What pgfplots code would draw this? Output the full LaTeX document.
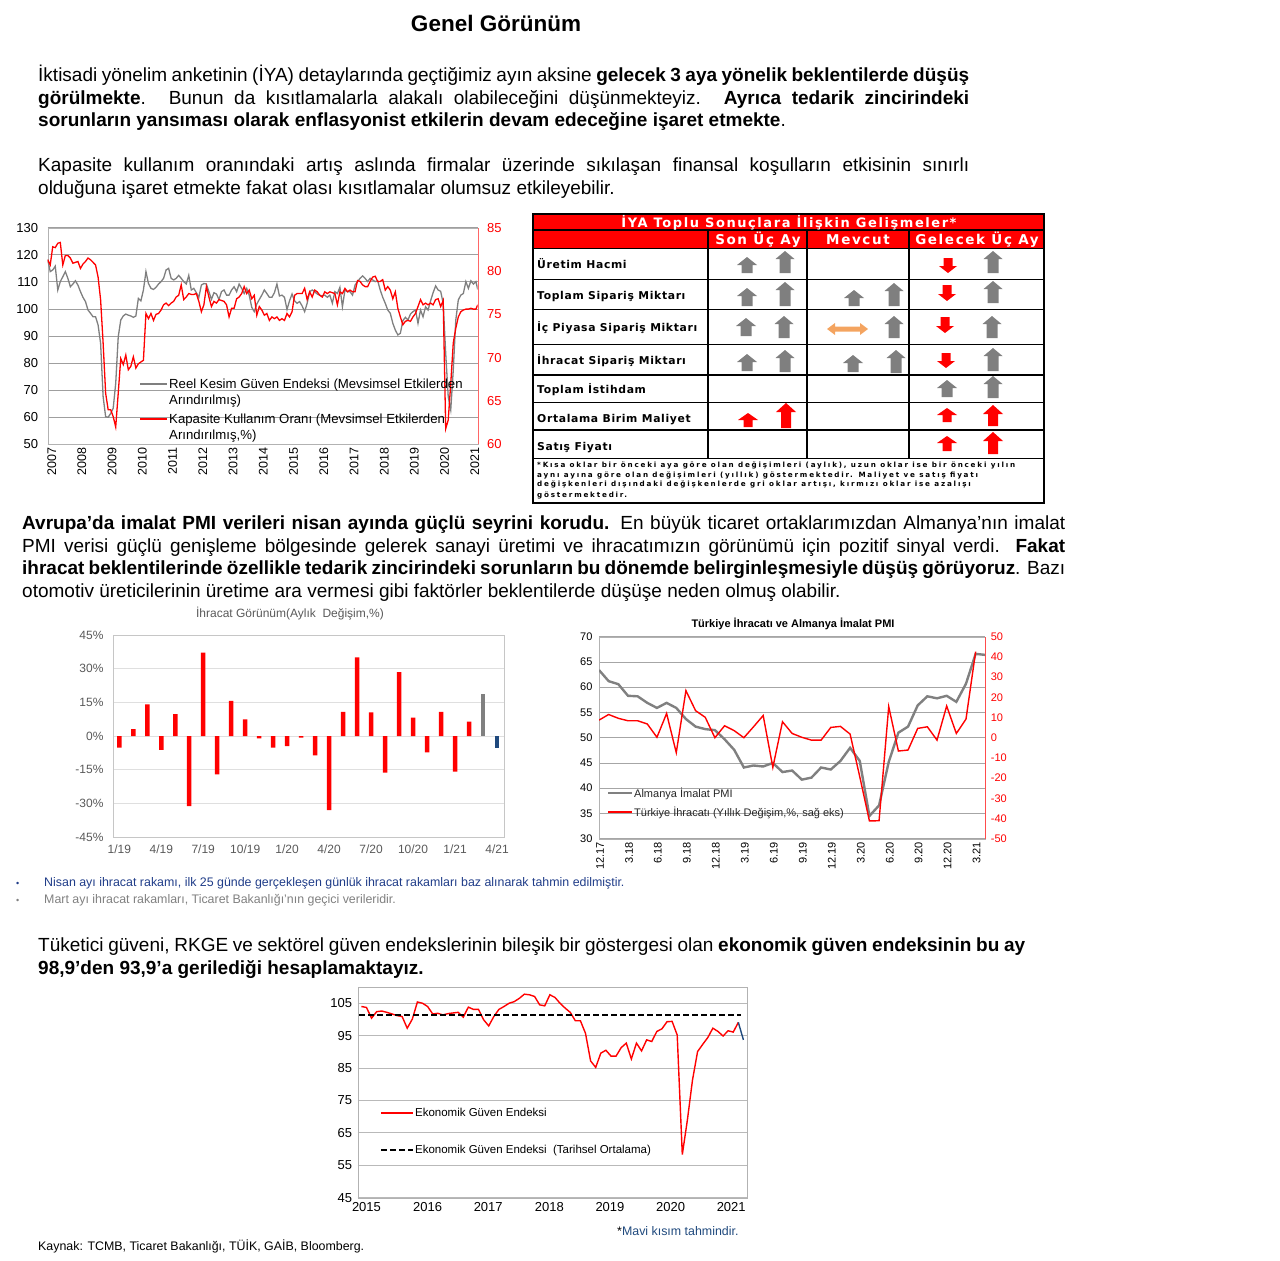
\documentclass[border=0pt]{standalone}
\usepackage{fontspec}
\setmainfont{Liberation Sans}
\newfontfamily\tfont[LetterSpace=6]{DejaVu Sans}
\newfontfamily\tfontw[LetterSpace=12]{DejaVu Sans}
\newfontfamily\tfontf[LetterSpace=25]{DejaVu Sans}
\usepackage{pgfplots}
\pgfplotsset{compat=1.18}
\definecolor{arrgray}{HTML}{7F7F7F}
\definecolor{dblue}{HTML}{1F497D}
\definecolor{nblue}{HTML}{1F3C88}
\definecolor{lgray}{HTML}{595959}
\definecolor{orng}{HTML}{F4A460}
\newcommand\uparr[7]{\fill[#7] ({#1-#5/2},#3) -- ({#1-#5/2},{#2+#6}) -- ({#1-#4/2},{#2+#6}) -- (#1,#2) -- ({#1+#4/2},{#2+#6}) -- ({#1+#5/2},{#2+#6}) -- ({#1+#5/2},#3) -- cycle;}
\newcommand\dnarr[7]{\fill[#7] ({#1-#5/2},#2) -- ({#1-#5/2},{#3-#6}) -- ({#1-#4/2},{#3-#6}) -- (#1,#3) -- ({#1+#4/2},{#3-#6}) -- ({#1+#5/2},{#3-#6}) -- ({#1+#5/2},#2) -- cycle;}
\begin{document}
\begin{tikzpicture}
\begin{scope}[x=1pt,y=-1pt]
\path[use as bounding box] (0,0) rectangle (1280,1261);
% ---------- text ----------
\node[anchor=base, inner sep=0pt, font=\bfseries\fontsize{22.5}{26}\selectfont] at (496,31) {Genel Görünüm};
\begin{scope}[every node/.style={anchor=base west, inner sep=0pt, font=\fontsize{19}{22}\selectfont}]
\node at (38,81) {\makebox[931pt][s]{İktisadi yönelim anketinin (İYA) detaylarında geçtiğimiz ayın aksine \textbf{gelecek 3 aya yönelik beklentilerde düşüş}}};
\node at (38,104) {\makebox[931pt][s]{\textbf{görülmekte}. Bunun da kısıtlamalarla alakalı olabileceğini düşünmekteyiz. \textbf{Ayrıca tedarik zincirindeki}}};
\node at (38,126) {\textbf{sorunların yansıması olarak enflasyonist etkilerin devam edeceğine işaret etmekte}.};
\node at (38,171) {\makebox[931pt][s]{Kapasite kullanım oranındaki artış aslında firmalar üzerinde sıkılaşan finansal koşulların etkisinin sınırlı}};
\node at (38,194) {olduğuna işaret etmekte fakat olası kısıtlamalar olumsuz etkileyebilir.};
\node at (22,529) {\makebox[1043pt][s]{\textbf{Avrupa’da imalat PMI verileri nisan ayında güçlü seyrini korudu.} En büyük ticaret ortaklarımızdan Almanya'nın imalat}};
\node at (22,552) {\makebox[1043pt][s]{PMI verisi güçlü genişleme bölgesinde gelerek sanayi üretimi ve ihracatımızın görünümü için pozitif sinyal verdi. \textbf{Fakat}}};
\node at (22,574) {\makebox[1043pt][s]{\textbf{ihracat beklentilerinde özellikle tedarik zincirindeki sorunların bu dönemde belirginleşmesiyle düşüş görüyoruz}. Bazı}};
\node at (22,597) {otomotiv üreticilerinin üretime ara vermesi gibi faktörler beklentilerde düşüşe neden olmuş olabilir.};
\node at (38,951) {\makebox[987pt][s]{Tüketici güveni, RKGE ve sektörel güven endekslerinin bileşik bir göstergesi olan \textbf{ekonomik güven endeksinin bu ay}}};
\node at (38,974) {\textbf{98,9’den 93,9’a gerilediği hesaplamaktayız.}};
\end{scope}
\begin{scope}[every node/.style={anchor=base west, inner sep=0pt, font=\fontsize{12.4}{14}\selectfont}]
\node[text=nblue] at (16,886) {\fontsize{9}{9}\selectfont •};
\node[text=nblue] at (44,886) {Nisan ayı ihracat rakamı, ilk 25 günde gerçekleşen günlük ihracat rakamları baz alınarak tahmin edilmiştir.};
\node[text=gray] at (16,903) {\fontsize{9}{9}\selectfont •};
\node[text=gray] at (44,903) {Mart ayı ihracat rakamları, Ticaret Bakanlığı’nın geçici verileridir.};
\node at (617,1235) {*\textcolor{dblue}{Mavi kısım tahmindir.}};
\node at (38,1250) {Kaynak: TCMB, Ticaret Bakanlığı, TÜİK, GAİB, Bloomberg.};
\end{scope}
% ---------- table ----------
\fill[red] (533,214) rectangle (1044,248);
\draw[line width=1.5pt] (533,230) -- (1044,230);
\foreach \y in {248.3,279.3,309.3,344.3,375,402.3,430,458.3} \draw[line width=1.5pt] (533,\y) -- (1044,\y);
\draw[line width=2.4pt] (708,230) -- (708,458.3);
\draw[line width=1.5pt] (807,230) -- (807,458.3);
\draw[line width=1.5pt] (909,230) -- (909,458.3);
\draw[line width=2.2pt] (533,214) rectangle (1044,503);
\node[text=white, font=\tfontw\bfseries\fontsize{13}{13}\selectfont, inner sep=0pt, anchor=base] at (789,227) {İYA Toplu Sonuçlara İlişkin Gelişmeler*};
\begin{scope}[every node/.style={text=white, font=\tfontw\bfseries\fontsize{13.5}{14}\selectfont, inner sep=0pt, anchor=base}]
\node at (758,244.5) {Son Üç Ay};
\node at (858,244.5) {Mevcut};
\node at (977,244.5) {Gelecek Üç Ay};
\end{scope}
\begin{scope}[every node/.style={font=\tfont\bfseries\fontsize{10.8}{11}\selectfont, inner sep=0pt, anchor=base west}]
\node at (537,268) {Üretim Hacmi};
\node at (537,299) {Toplam Sipariş Miktarı};
\node at (537,331) {İç Piyasa Sipariş Miktarı};
\node at (537,364) {İhracat Sipariş Miktarı};
\node at (537,393) {Toplam İstihdam};
\node at (537,422) {Ortalama Birim Maliyet};
\node at (537,450) {Satış Fiyatı};
\end{scope}
\begin{scope}[every node/.style={font=\tfontf\bfseries\fontsize{7.2}{7}\selectfont, inner sep=0pt, anchor=base west}]
\node at (537,467) {*Kısa oklar bir önceki aya göre olan değişimleri (aylık), uzun oklar ise bir önceki yılın};
\node at (537,477) {aynı ayına göre olan değişimleri (yıllık) göstermektedir. Maliyet ve satış fiyatı};
\node at (537,486.5) {değişkenleri dışındaki değişkenlerde gri oklar artışı, kırmızı oklar ise azalışı};
\node at (537,497) {göstermektedir.};
\end{scope}
% arrows
\uparr{747}{257}{273}{20}{11}{8}{arrgray}\uparr{785}{251}{273}{19}{11}{8}{arrgray}
\dnarr{948}{258}{273}{18}{9}{7}{red}\uparr{993}{251}{273}{19}{11}{8}{arrgray}
\uparr{747}{288}{306}{20}{11}{8}{arrgray}\uparr{785}{282}{306}{19}{11}{8}{arrgray}
\uparr{854}{290}{306}{20}{11}{8}{arrgray}\uparr{894}{283}{306}{19}{11}{8}{arrgray}
\dnarr{947}{285}{301}{18}{9}{7}{red}\uparr{993}{281}{303}{19}{11}{8}{arrgray}
\uparr{746}{318}{336}{20}{11}{8}{arrgray}\uparr{784}{316}{338}{19}{11}{8}{arrgray}
\fill[orng] (827,329) -- (835,323) -- (835,326.5) -- (860,326.5) -- (860,323) -- (868,329) -- (860,335) -- (860,331.5) -- (835,331.5) -- (835,335) -- cycle;
\uparr{894}{316}{338}{19}{11}{8}{arrgray}
\dnarr{945}{317}{333}{18}{9}{7}{red}\uparr{992}{316}{338}{19}{11}{8}{arrgray}
\uparr{747}{354}{371}{20}{11}{8}{arrgray}\uparr{785}{350}{372}{19}{11}{8}{arrgray}
\uparr{853}{355}{372}{20}{11}{8}{arrgray}\uparr{896}{350}{373}{19}{11}{8}{arrgray}
\dnarr{946}{353}{368}{18}{9}{7}{red}\uparr{993}{348}{371}{19}{11}{8}{arrgray}
\uparr{947}{380}{397}{20}{11}{8}{arrgray}\uparr{993}{376}{398}{19}{11}{8}{arrgray}
\uparr{748}{413}{427}{20}{9}{7}{red}\uparr{786}{403}{428}{20}{10}{9}{red}
\uparr{947}{408}{422}{20}{9}{7}{red}\uparr{993}{405}{426}{20}{10}{9}{red}
\uparr{947}{436}{451}{20}{9}{7}{red}\uparr{993}{432}{454}{20}{10}{9}{red}
% chart titles
\node[text=lgray, font=\fontsize{12}{13}\selectfont, anchor=base, inner sep=0pt] at (290,617) {İhracat Görünüm(Aylık\ \ Değişim,\%)};
\node[font=\bfseries\fontsize{11}{12}\selectfont, anchor=base, inner sep=0pt] at (793,627) {Türkiye İhracatı ve Almanya İmalat PMI};
\end{scope}

\pgfplotsset{every axis/.append style={/pgf/number format/assume math mode=true}}
% ================= Chart 1 =================
\begin{axis}[at={(47.7pt,-444.3pt)}, anchor=south west, scale only axis,
  width=430pt, height=216.6pt, xmin=0, xmax=170.7, ymin=50, ymax=130,
  ytick={50,60,...,130}, xtick={0,12,...,168},
  xticklabels={2007,2008,2009,2010,2011,2012,2013,2014,2015,2016,2017,2018,2019,2020,2021},
  xticklabel style={rotate=90, anchor=east, font=\fontsize{12.5}{13}\selectfont, yshift=-4pt},
  yticklabel style={font=\fontsize{13}{13}\selectfont, xshift=-6pt},
  major tick length=0pt, ymajorgrids, grid style={color=gray!75, line width=0.8pt},
  axis line style={gray!60}]
\addplot[color=arrgray, line width=1.3pt] coordinates {
(0,118.3)(1,113.8)(2,114.4)(3,115.8)(4,107.0)(5,110.1)(6,111.9)(7,113.8)(8,111.3)(9,108.2)(10,109.2)(11,110.4)
(12,108.8)(13,106.4)(14,104.3)(15,102.7)(16,99.6)(17,98.4)(18,97.1)(19,97.1)(20,94.1)(21,87.3)(22,67.6)(23,60.2)
(24,60.0)(25,61.4)(26,63.3)(27,72.5)(28,89.7)(29,95.9)(30,97.4)(31,98.1)(32,97.7)(33,97.4)(34,96.9)(35,97.4)
(36,103.9)(37,103.0)(38,107.0)(39,113.8)(40,109.4)(41,107.6)(42,107.2)(43,108.0)(44,109.2)(45,110.1)(46,111.3)(47,114.4)
(48,115.0)(49,111.3)(50,110.7)(51,111.3)(52,112.4)(53,111.3)(54,110.1)(55,109.2)(56,112.4)(57,107.0)(58,107.6)(59,106.0)
(60,104.3)(61,108.8)(62,109.4)(63,109.2)(64,106.4)(65,103.5)(66,106.0)(67,105.5)(68,103.5)(69,106.4)(70,107.0)(71,105.1)
(72,105.1)(73,107.0)(74,108.2)(75,106.4)(76,109.2)(77,107.6)(78,105.7)(79,107.6)(80,105.1)(81,100.6)(82,99.0)(83,101.8)
(84,103.5)(85,105.1)(86,107.0)(87,105.7)(88,104.3)(89,104.3)(90,106.0)(91,109.2)(92,104.8)(93,105.1)(94,104.3)(95,99.8)
(96,103.0)(97,105.5)(98,103.0)(99,102.1)(100,102.7)(101,101.1)(102,99.0)(103,102.1)(104,106.4)(105,107.0)(106,106.4)(107,105.5)
(108,105.1)(109,104.8)(110,105.1)(111,104.3)(112,105.1)(113,102.1)(114,106.4)(115,105.7)(116,108.0)(117,100.8)(118,107.0)(119,106.4)
(120,106.4)(121,105.1)(122,108.8)(123,110.1)(124,111.3)(125,112.2)(126,111.3)(127,110.1)(128,111.3)(129,110.7)(130,110.1)(131,110.4)
(132,107.0)(133,104.3)(134,102.1)(135,99.6)(136,98.4)(137,94.7)(138,92.2)(139,90.4)(140,91.0)(141,95.7)(142,96.9)(143,95.9)
(144,98.1)(145,99.0)(146,99.6)(147,94.7)(148,99.6)(149,97.1)(150,100.8)(151,99.6)(152,103.0)(153,106.0)(154,108.5)(155,107.0)
(156,106.5)(157,102.1)(158,83.6)(159,67.6)(160,62.7)(161,77.4)(162,95.9)(163,103.3)(164,105.1)(165,105.7)(166,110.1)(167,107.6)
(168,110.4)(169,109.2)(170,110.1)(170.7,107.2)};
\end{axis}
\begin{axis}[at={(47.7pt,-444.3pt)}, anchor=south west, scale only axis,
  width=430pt, height=216.6pt, xmin=0, xmax=170.7, ymin=60, ymax=85,
  ytick={60,65,...,85}, axis y line*=right, axis x line=none,
  yticklabel style={font=\fontsize{13}{13}\selectfont, text=red, xshift=6pt},
  major tick length=0pt, y axis line style={red!60}]
\addplot[color=red, line width=1.3pt] coordinates {
(0,81.3)(1,80.7)(2,82.8)(3,82.7)(4,83.2)(5,83.3)(6,80.7)(7,81.8)(8,81.8)(9,81.5)(10,80.9)(11,81.0)
(12,81.1)(13,80.3)(14,80.8)(15,81.1)(16,81.5)(17,81.3)(18,81.0)(19,80.7)(20,79.3)(21,76.7)(22,71.7)(23,65.9)
(24,64.0)(25,64.0)(26,63.2)(27,62.0)(28,65.9)(29,69.9)(30,69.2)(31,70.3)(32,68.6)(33,69.0)(34,70.1)(35,68.8)
(36,69.3)(37,69.5)(38,69.7)(39,75.1)(40,74.5)(41,75.1)(42,74.3)(43,75.0)(44,75.1)(45,75.5)(46,76.1)(47,76.3)
(48,76.0)(49,76.3)(50,76.5)(51,77.0)(52,77.2)(53,78.4)(54,76.7)(55,77.0)(56,77.4)(57,77.3)(58,77.3)(59,77.4)
(60,76.5)(61,75.3)(62,76.1)(63,78.2)(64,77.0)(65,75.9)(66,76.5)(67,76.3)(68,76.7)(69,76.6)(70,76.5)(71,76.1)
(72,74.7)(73,75.7)(74,75.7)(75,76.8)(76,77.0)(77,77.4)(78,78.2)(79,77.4)(80,77.8)(81,76.8)(82,77.2)(83,74.9)
(84,75.9)(85,75.5)(86,74.9)(87,75.1)(88,74.3)(89,74.7)(90,74.5)(91,74.7)(92,74.3)(93,74.5)(94,74.3)(95,75.1)
(96,74.7)(97,75.3)(98,77.2)(99,77.4)(100,77.4)(101,77.4)(102,78.0)(103,76.7)(104,77.6)(105,77.0)(106,77.8)(107,77.6)
(108,77.2)(109,77.0)(110,77.6)(111,77.4)(112,77.6)(113,77.5)(114,77.4)(115,76.1)(116,77.6)(117,77.4)(118,78.0)(119,77.6)
(120,77.8)(121,77.6)(122,77.6)(123,78.9)(124,78.8)(125,78.4)(126,78.2)(127,78.2)(128,78.8)(129,79.3)(130,79.4)(131,78.8)
(132,78.8)(133,79.0)(134,77.8)(135,78.2)(136,77.8)(137,76.8)(138,77.6)(139,75.7)(140,74.7)(141,73.8)(142,74.2)(143,74.3)
(144,74.2)(145,74.7)(146,75.1)(147,75.9)(148,76.7)(149,76.1)(150,76.3)(151,76.1)(152,76.3)(153,76.1)(154,76.7)(155,76.8)
(156,75.9)(157,76.6)(158,61.8)(159,62.8)(160,67.0)(161,71.7)(162,73.4)(163,74.7)(164,75.3)(165,75.5)(166,75.6)(167,75.6)
(168,75.7)(169,75.6)(170,75.6)(170.7,76.1)};
\end{axis}

% ================= Chart 3: bars =================
\begin{axis}[at={(113pt,-837pt)}, anchor=south west, scale only axis,
  width=391pt, height=202pt, xmin=-0.45, xmax=27.5, ymin=-45, ymax=45,
  ytick={-45,-30,...,45}, yticklabel={\pgfmathprintnumber{\tick}\%},
  xtick={0,3,...,27}, xticklabels={1/19,4/19,7/19,10/19,1/20,4/20,7/20,10/20,1/21,4/21},
  ticklabel style={font=\fontsize{12}{13}\selectfont, text=lgray},
  yticklabel style={xshift=-6pt}, xticklabel style={yshift=-4pt},
  major tick length=0pt, ymajorgrids, grid style={color=gray!25, line width=0.8pt},
  axis line style={gray!45}]
\addplot[ybar, bar width=4.5pt, bar shift=0pt, fill=red, draw=none] coordinates {
(0,-5.2)(1,3.1)(2,14.1)(3,-6.2)(4,9.7)(5,-31.2)(6,37.1)(7,-17.1)(8,15.6)(9,7.4)(10,-1.0)(11,-5.2)
(12,-4.5)(13,-0.7)(14,-8.6)(15,-33.0)(16,10.8)(17,35.0)(18,10.5)(19,-16.3)(20,28.5)(21,8.2)(22,-7.3)(23,10.8)
(24,-15.9)(25,6.4)};
\addplot[ybar, bar width=4.5pt, bar shift=0pt, fill=gray, draw=none] coordinates {(26,18.7)};
\addplot[ybar, bar width=4.5pt, bar shift=0pt, fill=dblue, draw=none] coordinates {(27,-5.3)};
\end{axis}

% ================= Chart 4: PMI =================
\begin{axis}[at={(599pt,-838.7pt)}, anchor=south west, scale only axis,
  width=386.3pt, height=202pt, xmin=0, xmax=40, ymin=30, ymax=70,
  ytick={30,35,...,70}, xtick={0,3,...,39},
  xticklabels={12.17,3.18,6.18,9.18,12.18,3.19,6.19,9.19,12.19,3.20,6.20,9.20,12.20,3.21},
  xticklabel style={rotate=90, anchor=east, font=\fontsize{11}{12}\selectfont, yshift=-1pt},
  yticklabel style={font=\fontsize{11}{12}\selectfont, xshift=-3pt},
  major tick length=0pt, ymajorgrids, grid style={color=gray!70, line width=0.8pt},
  axis line style={gray!60}]
\addplot[color=gray, line width=2.4pt] coordinates {
(0,63.4)(1,61.2)(2,60.6)(3,58.3)(4,58.2)(5,56.9)(6,55.9)(7,56.9)(8,55.9)(9,53.7)(10,52.2)(11,51.7)
(12,51.5)(13,49.7)(14,47.6)(15,44.1)(16,44.5)(17,44.3)(18,45.0)(19,43.2)(20,43.5)(21,41.7)(22,42.1)(23,44.1)
(24,43.7)(25,45.4)(26,48.0)(27,45.4)(28,34.5)(29,36.6)(30,45.2)(31,51.0)(32,52.2)(33,56.4)(34,58.2)(35,57.8)
(36,58.3)(37,57.1)(38,60.7)(39,66.6)(40,66.4)};
\end{axis}
\begin{axis}[at={(599pt,-838.7pt)}, anchor=south west, scale only axis,
  width=386.3pt, height=202pt, xmin=0, xmax=40, ymin=-50, ymax=50,
  ytick={-50,-40,...,50}, axis y line*=right, axis x line=none,
  yticklabel style={font=\fontsize{11}{12}\selectfont, text=red, xshift=2pt},
  major tick length=0pt, y axis line style={red!70}]
\addplot[color=red, line width=1.4pt] coordinates {
(0,8.7)(1,11.5)(2,9.6)(3,8.4)(4,8.4)(5,6.8)(6,0.2)(7,12.0)(8,-7.4)(9,23.3)(10,13.4)(11,10.1)
(12,0.0)(13,5.9)(14,3.5)(15,0.0)(16,5.4)(17,11.0)(18,-14.7)(19,7.9)(20,2.1)(21,0.2)(22,-1.2)(23,-1.2)
(24,5.1)(25,5.6)(26,1.8)(27,-19.3)(28,-41.2)(29,-41.1)(30,15.4)(31,-6.6)(32,-6.1)(33,4.6)(34,5.4)(35,-1.2)
(36,15.7)(37,2.1)(38,9.2)(39,42.6)};
\end{axis}

% ================= Chart 5: economic confidence =================
\begin{axis}[at={(357.7pt,-1197.7pt)}, anchor=south west, scale only axis,
  width=389.3pt, height=211pt, xmin=-0.72, xmax=75.7, ymin=45, ymax=110.1,
  ytick={45,55,...,105}, xtick={1,13,24.9,36.9,48.8,60.7,72.6},
  xticklabels={2015,2016,2017,2018,2019,2020,2021},
  ticklabel style={font=\fontsize{13}{14}\selectfont},
  yticklabel style={xshift=-2pt}, xticklabel style={yshift=-1pt},
  major tick length=0pt, ymajorgrids, grid style={color=gray!55, line width=0.8pt},
  axis line style={gray!60},
  legend style={at={(0.057,0.431)}, anchor=north west, draw=none, fill=none,
    font=\fontsize{11.5}{12}\selectfont, row sep=25pt, inner sep=0pt, nodes={inner sep=1pt}},
  legend cell align=left,
  legend image code/.code={\draw (0pt,0pt) -- (32pt,0pt);}]
\addplot[color=red, line width=1.4pt] coordinates {
(0,104.0)(1,103.7)(2,100.4)(3,102.4)(4,102.6)(5,102.2)(6,101.7)(7,101.2)(8,100.9)(9,97.3)(10,100.1)(11,105.4)
(12,105.0)(13,104.0)(14,101.7)(15,101.9)(16,101.4)(17,101.8)(18,102.0)(19,102.2)(20,100.7)(21,103.8)(22,103.1)(23,103.1)
(24,99.9)(25,98.0)(26,100.9)(27,103.1)(28,104.0)(29,105.0)(30,105.5)(31,106.5)(32,107.8)(33,107.6)(34,107.1)(35,104.5)
(36,104.2)(37,107.6)(38,106.8)(39,105.0)(40,103.5)(41,102.2)(42,99.6)(43,99.6)(44,95.7)(45,87.2)(46,85.2)(47,89.6)
(48,90.5)(49,88.7)(50,88.7)(51,91.3)(52,92.7)(53,87.8)(54,92.7)(55,90.3)(56,93.7)(57,93.2)(58,96.3)(59,97.1)
(60,99.3)(61,99.4)(62,95.2)(63,58.3)(64,69.0)(65,81.3)(66,90.1)(67,92.3)(68,94.4)(69,97.3)(70,96.3)(71,94.9)
(72,96.5)(73,96.1)(74,99.1)};
\addlegendentry{Ekonomik Güven Endeksi}
\addplot[color=black, line width=2pt, dash pattern=on 6pt off 3pt] coordinates {(-0.4,101.4)(74.6,101.4)};
\addlegendentry{Ekonomik Güven Endeksi\ \ (Tarihsel Ortalama)}
\addplot[color=dblue, line width=1.4pt, forget plot] coordinates {(74,99.1)(75,93.7)};
\end{axis}

% ---------- legends of charts 1 and 4 ----------
\begin{scope}[x=1pt,y=-1pt]
\draw[color=arrgray, line width=1.3pt] (140,384) -- (167,384);
\draw[color=red, line width=1.3pt] (140,419) -- (167,419);
\begin{scope}[every node/.style={anchor=base west, inner sep=0pt, font=\fontsize{13.2}{14}\selectfont}]
\node at (169,388.6) {Reel Kesim Güven Endeksi (Mevsimsel Etkilerden};
\node at (169,404.6) {Arındırılmış)};
\node at (169,423.6) {Kapasite Kullanım Oranı (Mevsimsel Etkilerden};
\node at (169,439.6) {Arındırılmış,\%)};
\end{scope}
\draw[color=gray, line width=2.4pt] (608,793) -- (632,793);
\draw[color=red, line width=1.4pt] (608,812) -- (632,812);
\begin{scope}[every node/.style={anchor=base west, inner sep=0pt, font=\fontsize{11}{12}\selectfont, text=black!85}]
\node at (634,797) {Almanya İmalat PMI};
\node at (634,816) {Türkiye İhracatı (Yıllık Değişim,\%, sağ eks)};
\end{scope}
\end{scope}
\end{tikzpicture}
\end{document}
